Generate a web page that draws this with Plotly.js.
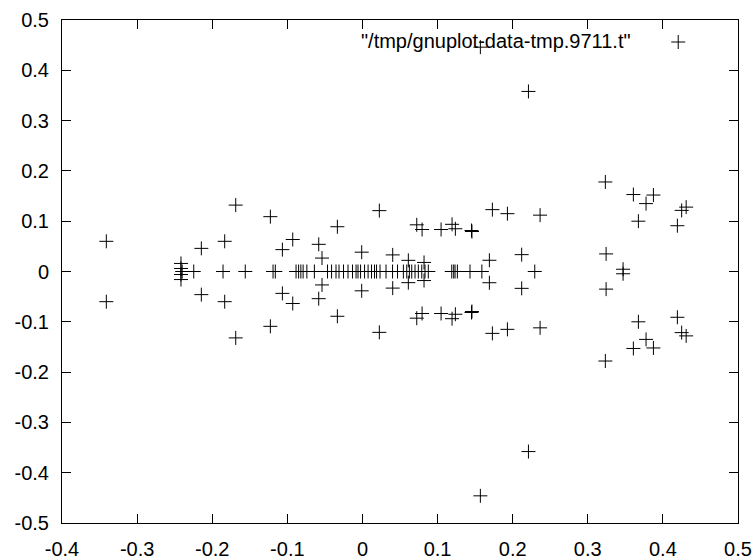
<!DOCTYPE html>
<html>
<head>
<meta charset="utf-8">
<script src="https://cdn.plot.ly/plotly-3.0.1.min.js"></script>
<style>html,body{margin:0;padding:0;background:#fff;}#chart{width:755px;height:560px;}</style>
</head>
<body>
<div id="chart"></div>
<script>
// Series title as shown in the key
var seriesName = '"/tmp/gnuplot-data-tmp.9711.t"';

// Data points
var xValues = [
  // row on y = 0
  -0.2246, -0.1856, -0.156, -0.119, -0.116,
  -0.0884, -0.085, -0.082, -0.079, -0.074, -0.064,
  -0.0465, -0.0411, -0.0352, -0.0312, -0.0252, -0.0192, -0.0132, -0.0085, -0.0059, -0.0025,
  0.0028, 0.0075, 0.0121, 0.0161, 0.0188, 0.0234, 0.0314, 0.0401, 0.0467,
  0.0545, 0.059, 0.0625, 0.0656, 0.07, 0.0744, 0.079, 0.0833, 0.0877,
  0.1189, 0.1215, 0.1233, 0.1264, 0.1432, 0.159, 0.2294,
  // small cluster near x = -0.24
  -0.2416, -0.2416, -0.240, -0.2416, -0.2416,
  // upper points
  -0.341, -0.2145, -0.1834, -0.1687, -0.1226, -0.1066, -0.0928, -0.0582, -0.0538, -0.0334,
  -0.001, 0.0225, 0.0403, 0.0611, 0.082, 0.0723, 0.0794, 0.1047, 0.1193, 0.1237,
  0.1452, 0.1458, 0.169, 0.173, 0.193, 0.212, 0.2365, 0.221, 0.157,
  0.3234, 0.3244, 0.347, 0.3607, 0.3674, 0.3776, 0.3874, 0.4193, 0.425, 0.431,
  // lower points
  -0.341, -0.2145, -0.1834, -0.1687, -0.1226, -0.1066, -0.0928, -0.0582, -0.0538, -0.0334,
  -0.001, 0.0225, 0.0403, 0.0611, 0.082, 0.0723, 0.0794, 0.1047, 0.1193, 0.1237,
  0.1452, 0.1458, 0.169, 0.173, 0.193, 0.212, 0.2365, 0.221, 0.157,
  0.3234, 0.3244, 0.347, 0.3607, 0.3674, 0.3776, 0.3874, 0.4193, 0.425, 0.431
];
var yValues = [
  0, 0, 0, 0, 0,
  0, 0, 0, 0, 0, 0,
  0, 0, 0, 0, 0, 0, 0, 0, 0, 0,
  0, 0, 0, 0, 0, 0, 0, 0, 0,
  0, 0, 0, 0, 0, 0, 0, 0, 0,
  0, 0, 0, 0, 0, 0, 0,
  0.016, 0.006, 0, -0.006, -0.016,
  0.06, 0.046, 0.06, 0.132, 0.109, 0.0435, 0.0636, 0.054, 0.0267, 0.089,
  0.0384, 0.121, 0.033, 0.0222, 0.018, 0.0928, 0.0835, 0.0835, 0.0938, 0.085,
  0.0815, 0.0795, 0.0223, 0.123, 0.115, 0.0335, 0.112, 0.358, 0.446,
  0.178, 0.035, 0.0045, 0.153, 0.1, 0.135, 0.152, 0.091, 0.1215, 0.128,
  -0.06, -0.046, -0.06, -0.132, -0.109, -0.0435, -0.0636, -0.054, -0.0267, -0.089,
  -0.0384, -0.121, -0.033, -0.0222, -0.018, -0.0928, -0.0835, -0.0835, -0.0938, -0.085,
  -0.0815, -0.0795, -0.0223, -0.123, -0.115, -0.0335, -0.112, -0.358, -0.446,
  -0.178, -0.035, -0.0045, -0.153, -0.1, -0.135, -0.152, -0.091, -0.1215, -0.128
];

// Tick labels
var xTickVals = [-0.4, -0.3, -0.2, -0.1, 0, 0.1, 0.2, 0.3, 0.4, 0.5];
var xTickText = ['-0.4', '-0.3', '-0.2', '-0.1', '0', '0.1', '0.2', '0.3', '0.4', '0.5'];
var yTickVals = [-0.5, -0.4, -0.3, -0.2, -0.1, 0, 0.1, 0.2, 0.3, 0.4, 0.5];
var yTickText = ['-0.5', '-0.4', '-0.3', '-0.2', '-0.1', '0', '0.1', '0.2', '0.3', '0.4', '0.5'];

var fontFamily = '"Liberation Sans", Arial, sans-serif';

var trace = {
  type: 'scatter',
  mode: 'markers',
  x: xValues,
  y: yValues,
  name: ' ',
  showlegend: true,
  marker: {symbol: 'cross-thin-open', size: 10, color: '#000', line: {width: 1, color: '#000'}},
  hoverinfo: 'x+y'
};

var axisCommon = {
  showline: true, linecolor: '#000', linewidth: 1, mirror: 'ticks',
  ticks: 'inside', ticklen: 9, tickwidth: 1, tickcolor: '#000',
  showgrid: false, zeroline: false, tickmode: 'array',
  tickfont: {family: fontFamily, size: 20, color: '#000'},
  ticklabelstandoff: 8
};

var layout = {
  width: 755, height: 560,
  margin: {l: 62, r: 17, t: 20, b: 37, pad: 0},
  paper_bgcolor: '#fff', plot_bgcolor: '#fff',
  font: {family: fontFamily, size: 20, color: '#000'},
  xaxis: Object.assign({}, axisCommon, {range: [-0.4, 0.5], tickvals: xTickVals, ticktext: xTickText}),
  yaxis: Object.assign({}, axisCommon, {range: [-0.5, 0.5], tickvals: yTickVals, ticktext: yTickText}),
  showlegend: true,
  legend: {x: 0.882, y: 0.995, xanchor: 'left', yanchor: 'top', bgcolor: 'rgba(0,0,0,0)', borderwidth: 0,
           font: {family: fontFamily, size: 20, color: '#000'}, itemwidth: 30},
  annotations: [{
    text: seriesName, xref: 'paper', yref: 'paper', x: 0.8447, y: 0.958,
    xanchor: 'right', yanchor: 'middle', showarrow: false,
    font: {family: fontFamily, size: 20, color: '#000'}
  }]
};

Plotly.newPlot('chart', [trace], layout, {displayModeBar: false, staticPlot: true});
</script>
</body>
</html>
